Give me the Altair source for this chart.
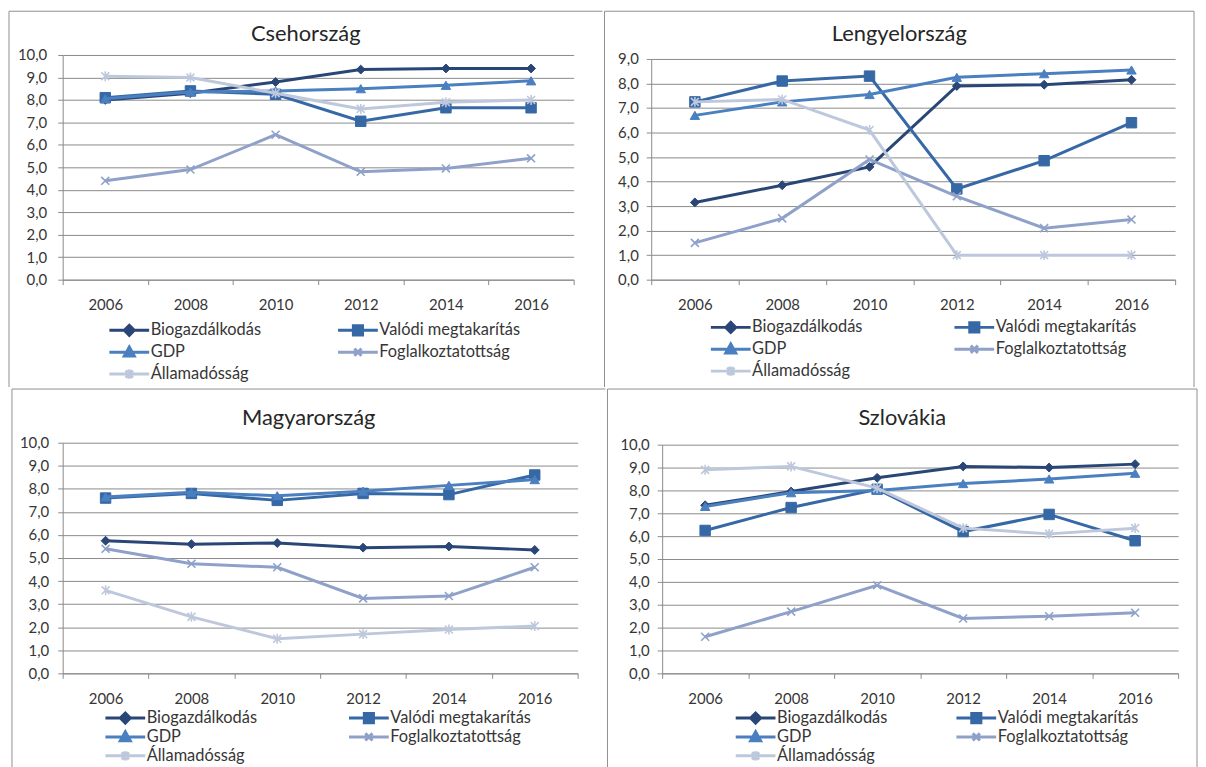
import altair as alt
import pandas as pd

# ---------------- data ----------------
years = ["2006", "2008", "2010", "2012", "2014", "2016"]
series = ["Biogazdálkodás", "Valódi megtakarítás", "GDP", "Foglalkoztatottság", "Államadósság"]

cz_bio = [8.0, 8.3, 8.8, 9.35, 9.4, 9.4]
cz_val = [8.1, 8.4, 8.25, 7.05, 7.65, 7.65]
cz_gdp = [8.05, 8.35, 8.4, 8.5, 8.65, 8.85]
cz_fog = [4.4, 4.9, 6.45, 4.8, 4.95, 5.4]
cz_all = [9.05, 9.0, 8.3, 7.6, 7.9, 8.0]

pl_bio = [3.15, 3.85, 4.6, 7.9, 7.95, 8.15]
pl_val = [7.25, 8.1, 8.3, 3.7, 4.85, 6.4]
pl_gdp = [6.7, 7.25, 7.55, 8.25, 8.4, 8.55]
pl_fog = [1.5, 2.5, 4.9, 3.4, 2.1, 2.45]
pl_all = [7.25, 7.35, 6.1, 1.0, 1.0, 1.0]

hu_bio = [5.75, 5.6, 5.65, 5.45, 5.5, 5.35]
hu_val = [7.6, 7.8, 7.5, 7.8, 7.75, 8.6]
hu_gdp = [7.65, 7.85, 7.7, 7.9, 8.15, 8.4]
hu_fog = [5.4, 4.75, 4.6, 3.25, 3.35, 4.6]
hu_all = [3.6, 2.45, 1.5, 1.7, 1.9, 2.05]

sk_bio = [7.35, 7.95, 8.55, 9.05, 9.0, 9.15]
sk_val = [6.25, 7.25, 8.05, 6.2, 6.95, 5.8]
sk_gdp = [7.3, 7.9, 8.0, 8.3, 8.5, 8.75]
sk_fog = [1.6, 2.7, 3.85, 2.4, 2.5, 2.65]
sk_all = [8.9, 9.05, 8.1, 6.35, 6.1, 6.35]

# ---------------- styles ----------------
FONT = "Lato"
TEXT = "#363636"
GRID = "#8a8a8a"
FRAME = "#8f8f8f"
colors = ["#2a4676", "#3768a6", "#4a7fc0", "#8fa1c9", "#bec8dc"]

# legend is filled column by column: this order gives the reference's row-wise layout
legend_order = [0, 2, 4, 1, 3]

X_PATH = "M-1,-1L1,1M-1,1L1,-1"
STAR_PATH = "M-1,-1L1,1M-1,1L1,-1M0,-1.25L0,1.25"
point_styles = [
    dict(shape="diamond", size=80, filled=True, strokeWidth=1),
    dict(shape="square", size=110, filled=True, strokeWidth=1),
    dict(shape="triangle-up", size=90, filled=True, strokeWidth=1),
    dict(shape=X_PATH, size=64, filled=False, strokeWidth=1.6),
    dict(shape=STAR_PATH, size=64, filled=False, strokeWidth=1.6),
]
# legend glyphs: a line segment spanning the symbol with the series marker in the middle
legend_paths = [
    "M-1,0L1,0M0,-0.25L0.25,0L0,0.25L-0.25,0Z",
    "M-1,0L1,0M-0.23,-0.23L0.23,-0.23L0.23,0.23L-0.23,0.23Z",
    "M-1,0L1,0M0,-0.26L0.25,0.19L-0.25,0.19Z",
    "M-1,0L1,0M-0.18,-0.18L0.18,0.18M-0.18,0.18L0.18,-0.18",
    "M-1,0L1,0M-0.18,-0.18L0.18,0.18M-0.18,0.18L0.18,-0.18M0,-0.23L0,0.23",
]


def pick_expr(values):
    expr = "''"
    for s, v in reversed(list(zip(series, values))):
        expr = f"datum.value === '{s}' ? '{v}' : ({expr})"
    return expr


def one_row():
    return alt.Chart(pd.DataFrame({"k": [0]}))


def panel(title, vals, ymax, w, h, top_gap, box, edges, leg, ylabpad, title_dy):
    L, T, R, B = box
    lx, ly, colpad, rowh = leg
    rows = []
    for s, vs in zip(series, vals):
        for yr, v in zip(years, vs):
            rows.append({"ev": yr, "sorozat": s, "ertek": v})
    df = pd.DataFrame(rows)

    x_enc = alt.X(
        "ev:O",
        bandPosition=0.5,
        scale=alt.Scale(type="band", domain=years, paddingInner=0, paddingOuter=0),
        axis=alt.Axis(
            title=None, labelAngle=0, tickBand="extent", grid=False,
            domainColor=GRID, tickColor=GRID, tickSize=5, labelPadding=13,
            labelFont=FONT, labelFontSize=15, labelColor=TEXT,
        ),
    )
    y_enc = alt.Y(
        "ertek:Q",
        scale=alt.Scale(domain=[0, ymax], nice=False, range=[h, top_gap]),
        axis=alt.Axis(
            title=None, values=list(range(0, ymax + 1)),
            labelExpr="replace(format(datum.value, '.1f'), '.', ',')",
            grid=True, gridColor=GRID, gridWidth=1,
            domainColor=GRID, tickColor=GRID, tickSize=5, labelPadding=ylabpad,
            labelFont=FONT, labelFontSize=15, labelColor=TEXT,
        ),
    )

    legend = alt.Legend(
        title=None, orient="none", legendX=lx, legendY=ly,
        columns=2, columnPadding=colpad, rowPadding=rowh - 18, clipHeight=18,
        symbolSize=40 * 40, symbolStrokeWidth=3, symbolOffset=0,
        symbolType={"expr": pick_expr(legend_paths)},
        symbolFillColor={"expr": pick_expr(colors)},
        labelOffset=0, padding=0,
        labelFont=FONT, labelFontSize=16.5, labelColor=TEXT, labelLimit=300,
    )
    color_scale = alt.Scale(
        domain=[series[i] for i in legend_order],
        range=[colors[i] for i in legend_order],
    )

    # chart-area frame (Excel-like border); shared edges are drawn only once
    layers = []
    rule = dict(color=FRAME, strokeWidth=1)
    if "top" in edges:
        layers.append(one_row().mark_rule(**rule).encode(
            x=alt.value(-L), x2=alt.value(w + R), y=alt.value(-T)))
    if "left" in edges:
        layers.append(one_row().mark_rule(**rule).encode(
            x=alt.value(-L), y=alt.value(-T), y2=alt.value(h + B)))
    if "right" in edges:
        layers.append(one_row().mark_rule(**rule).encode(
            x=alt.value(w + R), y=alt.value(-T), y2=alt.value(h + B)))

    heading = alt.Chart(pd.DataFrame({"cim": [title]})).mark_text(
        font=FONT, fontSize=22, fontWeight="normal", color="#262626",
        align="center", baseline="middle",
    ).encode(
        text="cim:N", x=alt.value((w + R - L) / 2), y=alt.value(title_dy)
    )
    layers.append(heading)

    base = alt.Chart(df)
    for s, c, ps in zip(series, colors, point_styles):
        sub = base.transform_filter(alt.datum.sorozat == s)
        line = sub.mark_line(strokeWidth=3).encode(
            x=x_enc, y=y_enc,
            color=alt.Color("sorozat:N", scale=color_scale, legend=legend),
        )
        if ps["filled"]:
            pt = sub.mark_point(shape=ps["shape"], size=ps["size"], filled=True,
                                fill=c, stroke=c, strokeWidth=ps["strokeWidth"], opacity=1)
        else:
            pt = sub.mark_point(shape=ps["shape"], size=ps["size"], filled=False,
                                stroke=c, strokeWidth=ps["strokeWidth"], opacity=1)
        pt = pt.encode(x=x_enc, y=y_enc)
        layers += [line, pt]

    return alt.layer(*layers).properties(width=w, height=h)


p1 = panel("Csehország", [cz_bio, cz_val, cz_gdp, cz_fog, cz_all], 10, 514, 226, 0,
           (54, 44, 29, 108), ("top", "left"), (45.5, 268, 75, 22), 11, -21)
p2 = panel("Lengyelország", [pl_bio, pl_val, pl_gdp, pl_fog, pl_all], 9, 527, 226, 4,
           (47, 44, 19, 108), ("top", "left", "right"), (58.5, 265, 90, 22), 8, -21)
p3 = panel("Magyarország", [hu_bio, hu_val, hu_gdp, hu_fog, hu_all], 10, 518, 232, 0,
           (51, 54, 28, 100), ("top", "left"), (41.5, 268, 90, 19), 9, -25)
p4 = panel("Szlovákia", [sk_bio, sk_val, sk_gdp, sk_fog, sk_all], 10, 519, 232, 2,
           (55, 54, 19, 100), ("top", "left", "right"), (72.5, 268, 67, 19), 8, -25)

top = alt.hconcat(p1, p2, spacing=0).resolve_scale(color="independent").resolve_legend(color="independent")
bottom = alt.hconcat(p3, p4, spacing=0).resolve_scale(color="independent").resolve_legend(color="independent")

chart = (
    alt.vconcat(top, bottom, spacing=0)
    .resolve_scale(color="independent")
    .resolve_legend(color="independent")
    .properties(padding=0, background="white")
    .configure_view(stroke="transparent")
)

chart.save("out.html", embed_options={"renderer": "svg", "actions": False})
